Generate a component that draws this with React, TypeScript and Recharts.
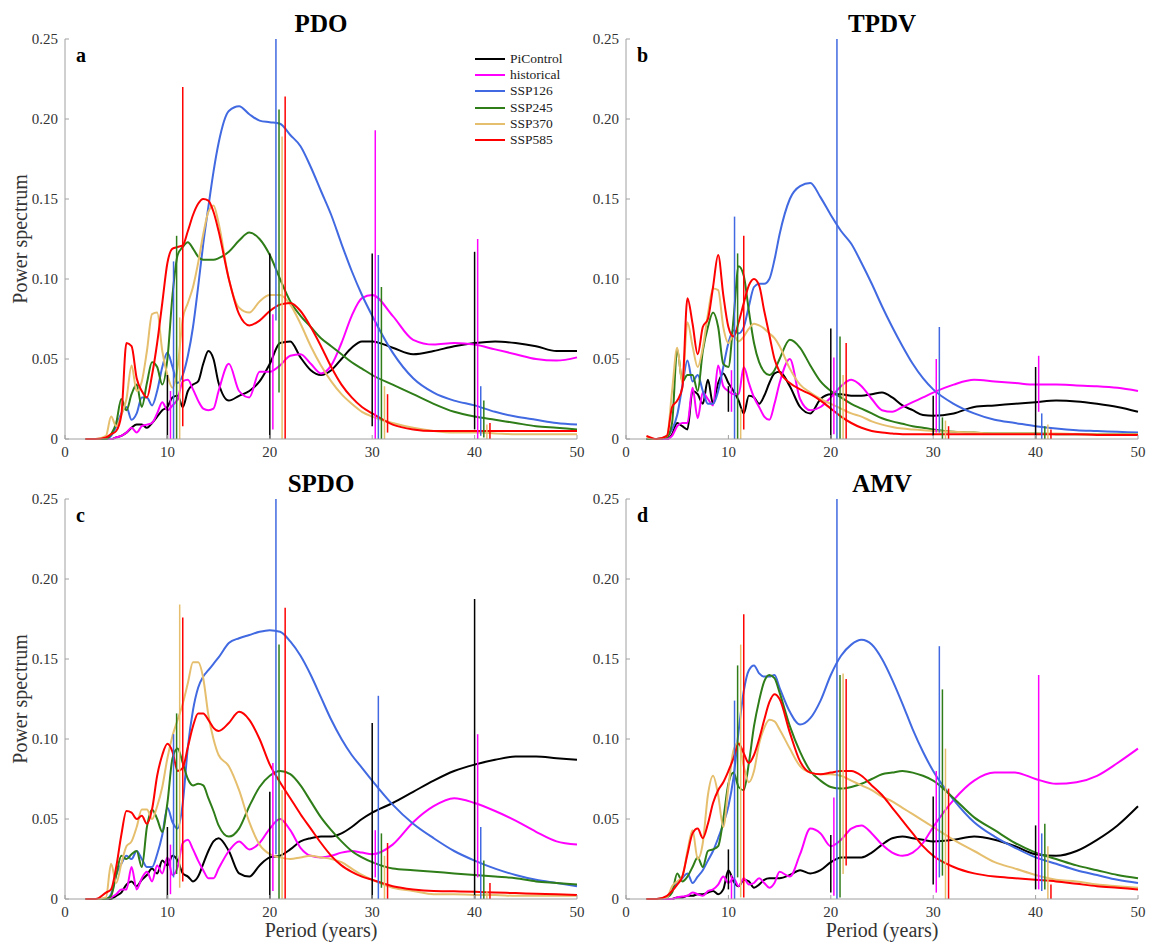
import React from 'react';
import { Line, LineChart, ReferenceLine, XAxis, YAxis } from 'recharts';

// shared period grid (years)
const periods = [
  2, 3, 4, 4.5, 5, 5.5, 6, 6.5, 7, 7.5,
  8, 8.5, 9, 9.5, 10, 10.5, 11, 11.5, 12, 12.5,
  13, 13.5, 14, 14.5, 15, 16, 17, 18, 19, 20,
  21, 22, 23, 24, 25, 26, 27, 28, 29, 30,
  32, 34, 36, 38, 40, 42, 44, 46, 48, 50,
];

const seriesNames = ['PiControl', 'historical', 'SSP126', 'SSP245', 'SSP370', 'SSP585'];
const seriesColors = ['#000000', '#ff00ff', '#4169e1', '#2e7d18', '#e6bf6e', '#ff0000'];

const xTicks = [0, 10, 20, 30, 40, 50];
const yTicks = [0, 0.05, 0.1, 0.15, 0.2, 0.25];

// significant periods, each scenario shifted a bit to the right
const barPeriods = [10, 20, 30, 40];
const barShift = 0.3;

// ---- PDO ----
const pdoPiControl = [
  0, 0, 0, 0, 0.001, 0.002, 0.004, 0.007, 0.009, 0.009,
  0.007, 0.01, 0.014, 0.018, 0.02, 0.026, 0.027, 0.02, 0.03, 0.034,
  0.036, 0.047, 0.055, 0.05, 0.035, 0.024, 0.027, 0.03, 0.036, 0.047,
  0.06, 0.061, 0.051, 0.043, 0.04, 0.043, 0.05, 0.057, 0.061, 0.061,
  0.057, 0.053, 0.055, 0.058, 0.06, 0.061, 0.06, 0.058, 0.055, 0.055,
];
const pdoHistorical = [
  0, 0, 0, 0, 0.001, 0.002, 0.004, 0.007, 0.004, 0.008,
  0.009, 0.01, 0.016, 0.023, 0.018, 0.021, 0.025, 0.036, 0.037, 0.031,
  0.024, 0.019, 0.018, 0.019, 0.03, 0.047, 0.03, 0.026, 0.042, 0.042,
  0.046, 0.052, 0.053, 0.047, 0.041, 0.046, 0.06, 0.077, 0.088, 0.09,
  0.077, 0.062, 0.059, 0.06, 0.059, 0.056, 0.053, 0.05, 0.049, 0.051,
];
const pdoSSP126 = [
  0, 0, 0, 0.002, 0.008, 0.016, 0.02, 0.012, 0.016, 0.026,
  0.026, 0.021, 0.03, 0.045, 0.054, 0.045, 0.035, 0.04, 0.052, 0.07,
  0.095, 0.122, 0.145, 0.167, 0.185, 0.205, 0.208, 0.203, 0.199, 0.198,
  0.197, 0.19, 0.183, 0.17, 0.155, 0.14, 0.122, 0.105, 0.09, 0.077,
  0.054, 0.038, 0.029, 0.024, 0.021, 0.017, 0.014, 0.012, 0.01, 0.009,
];
const pdoSSP245 = [
  0, 0, 0, 0.003, 0.01, 0.025, 0.018, 0.028, 0.034, 0.02,
  0.035, 0.048, 0.045, 0.034, 0.05, 0.09, 0.115, 0.12, 0.123, 0.119,
  0.114, 0.112, 0.112, 0.112, 0.113, 0.117, 0.124, 0.129, 0.125, 0.115,
  0.1, 0.086, 0.077, 0.07, 0.063, 0.058, 0.053, 0.048, 0.044, 0.04,
  0.034, 0.028, 0.022, 0.017, 0.014, 0.012, 0.01, 0.008, 0.007, 0.006,
];
const pdoSSP370 = [
  0, 0, 0.002, 0.014, 0.008, 0.015, 0.025, 0.046, 0.03, 0.036,
  0.055, 0.078, 0.079, 0.055, 0.04, 0.032, 0.045, 0.075, 0.085, 0.095,
  0.11, 0.128, 0.142, 0.146, 0.135, 0.1, 0.082, 0.079, 0.086, 0.09,
  0.09, 0.084, 0.072, 0.058, 0.046, 0.036, 0.028, 0.022, 0.017, 0.014,
  0.01, 0.007, 0.005, 0.004, 0.004, 0.0035, 0.003, 0.003, 0.003, 0.003,
];
const pdoSSP585 = [
  0, 0, 0.001, 0.003, 0.005, 0.015, 0.06, 0.058, 0.038, 0.03,
  0.026, 0.04, 0.06, 0.085, 0.11, 0.119, 0.12, 0.121, 0.13, 0.14,
  0.147, 0.15, 0.149, 0.142, 0.13, 0.1, 0.078, 0.071, 0.074, 0.08,
  0.084, 0.085, 0.08, 0.07, 0.058, 0.045, 0.034, 0.026, 0.02, 0.016,
  0.009, 0.006, 0.005, 0.005, 0.005, 0.005, 0.005, 0.005, 0.005, 0.005,
];
const pdoBarLow = [
  [0, 0, 0.008, 0.006],
  [0, 0.006, 0, 0],
  [0, 0.074, 0, 0.002],
  [0, 0.029, 0, 0.001],
  [0, 0, 0, 0],
  [0.008, 0, 0.004, 0],
];
const pdoBarHigh = [
  [0.04, 0.116, 0.116, 0.117],
  [0.03, 0.078, 0.193, 0.125],
  [0.111, 0.25, 0.115, 0.033],
  [0.127, 0.206, 0.095, 0.024],
  [0.076, 0.189, 0.033, 0.009],
  [0.22, 0.214, 0.028, 0.01],
];

// ---- TPDV ----
const tpdvPiControl = [
  0, 0, 0, 0.003, 0.01, 0.008, 0.006, 0.03, 0.028, 0.022,
  0.037, 0.022, 0.035, 0.041, 0.035, 0.03, 0.024, 0.016, 0.027, 0.026,
  0.022, 0.027, 0.035, 0.041, 0.042, 0.033, 0.02, 0.016, 0.025, 0.028,
  0.028, 0.027, 0.027, 0.028, 0.029, 0.026, 0.021, 0.018, 0.015, 0.0145,
  0.016, 0.02, 0.021, 0.022, 0.023, 0.024, 0.0235, 0.022, 0.02, 0.017,
];
const tpdvHistorical = [
  0, 0, 0, 0.002, 0.008, 0.01, 0.01, 0.032, 0.013, 0.029,
  0.025, 0.021, 0.046, 0.033, 0.03, 0.028, 0.028, 0.045, 0.035, 0.026,
  0.02, 0.014, 0.012, 0.022, 0.035, 0.05, 0.025, 0.018, 0.02, 0.026,
  0.033, 0.037, 0.033, 0.025, 0.018, 0.017, 0.02, 0.023, 0.026, 0.029,
  0.034, 0.037, 0.036, 0.035, 0.034, 0.034, 0.0335, 0.033, 0.032, 0.03,
];
const tpdvSSP126 = [
  0, 0, 0.002, 0.006, 0.015, 0.033, 0.049, 0.036, 0.04, 0.03,
  0.022, 0.022, 0.03, 0.045, 0.06, 0.068, 0.066, 0.07, 0.083, 0.095,
  0.097, 0.097, 0.1, 0.112, 0.128, 0.15, 0.158, 0.16, 0.151, 0.14,
  0.13, 0.122, 0.11, 0.097, 0.083, 0.07, 0.058, 0.047, 0.038, 0.031,
  0.022, 0.016, 0.012, 0.01, 0.008, 0.0065, 0.0055, 0.005, 0.0045, 0.004,
];
const tpdvSSP245 = [
  0, 0, 0.001, 0.01, 0.056, 0.036, 0.04, 0.04, 0.03, 0.055,
  0.07, 0.079, 0.07, 0.047, 0.045, 0.075, 0.108, 0.102, 0.08, 0.06,
  0.048, 0.042, 0.04, 0.043, 0.05, 0.062, 0.057, 0.046, 0.036, 0.03,
  0.026, 0.022, 0.019, 0.016, 0.013, 0.011, 0.0095, 0.008, 0.007, 0.006,
  0.0045, 0.004, 0.0035, 0.0035, 0.0035, 0.003, 0.003, 0.003, 0.003, 0.003,
];
const tpdvSSP370 = [
  0.001, 0, 0.002, 0.03, 0.057, 0.035, 0.073, 0.058, 0.045, 0.057,
  0.078, 0.094, 0.093, 0.07, 0.06, 0.065, 0.061, 0.064, 0.069, 0.072,
  0.071, 0.069, 0.066, 0.063, 0.058, 0.044, 0.034, 0.029, 0.025, 0.022,
  0.019, 0.016, 0.014, 0.011, 0.009, 0.0075, 0.0065, 0.006, 0.0055, 0.005,
  0.0045, 0.004, 0.0035, 0.0035, 0.0035, 0.0035, 0.003, 0.003, 0.003, 0.003,
];
const tpdvSSP585 = [
  0.002, 0, 0.002, 0.02, 0.024, 0.032, 0.088, 0.072, 0.053, 0.07,
  0.075, 0.095, 0.115, 0.09, 0.07, 0.064, 0.073, 0.085, 0.096, 0.1,
  0.096, 0.08, 0.065, 0.05, 0.042, 0.035, 0.031, 0.028, 0.024, 0.019,
  0.014, 0.01, 0.007, 0.005, 0.004, 0.0035, 0.003, 0.003, 0.003, 0.003,
  0.003, 0.003, 0.003, 0.003, 0.003, 0.003, 0.003, 0.0025, 0.0025, 0.0025,
];
const tpdvBarLow = [
  [0.017, 0, 0.002, 0],
  [0.017, 0.003, 0.004, 0.017],
  [0, 0, 0.004, 0],
  [0, 0, 0, 0],
  [0, 0, 0, 0],
  [0.006, 0, 0, 0],
];
const tpdvBarHigh = [
  [0.033, 0.069, 0.027, 0.045],
  [0.043, 0.051, 0.05, 0.052],
  [0.139, 0.25, 0.07, 0.016],
  [0.116, 0.064, 0.0135, 0.008],
  [0.019, 0.04, 0.0115, 0.009],
  [0.127, 0.06, 0.008, 0.006],
];

// ---- SPDO ----
const spdoPiControl = [
  0, 0, 0, 0, 0.002, 0.004, 0.009, 0.011, 0.008, 0.012,
  0.015, 0.019, 0.016, 0.024, 0.021, 0.027, 0.024, 0.016, 0.014, 0.011,
  0.014, 0.022, 0.03, 0.036, 0.038, 0.03, 0.016, 0.014, 0.021, 0.026,
  0.027, 0.031, 0.036, 0.038, 0.039, 0.039, 0.041, 0.045, 0.05, 0.054,
  0.06, 0.067, 0.074, 0.08, 0.084, 0.087, 0.089, 0.089, 0.088, 0.087,
];
const spdoHistorical = [
  0, 0, 0, 0.001, 0.003, 0.006, 0.006, 0.02, 0.006, 0.013,
  0.017, 0.011, 0.021, 0.016, 0.026, 0.015, 0.02, 0.035, 0.037, 0.031,
  0.024, 0.018, 0.013, 0.013, 0.019, 0.03, 0.036, 0.031, 0.035, 0.044,
  0.05, 0.043, 0.032, 0.027, 0.026, 0.027, 0.029, 0.03, 0.029, 0.028,
  0.034, 0.048, 0.058, 0.063, 0.06, 0.055, 0.049, 0.042, 0.036, 0.034,
];
const spdoSSP126 = [
  0, 0, 0, 0.003, 0.015, 0.022, 0.027, 0.025, 0.03, 0.025,
  0.02, 0.02, 0.028, 0.04, 0.057, 0.048, 0.044, 0.06, 0.095, 0.118,
  0.132, 0.139, 0.143, 0.147, 0.151, 0.16, 0.163, 0.165, 0.167, 0.168,
  0.167, 0.161, 0.152, 0.14, 0.126, 0.112, 0.1, 0.09, 0.082, 0.074,
  0.059, 0.047, 0.038, 0.03, 0.024, 0.019, 0.015, 0.012, 0.01, 0.008,
];
const spdoSSP245 = [
  0, 0, 0, 0.002, 0.015, 0.027, 0.025, 0.028, 0.03, 0.02,
  0.045, 0.056, 0.05, 0.042, 0.06, 0.088, 0.094, 0.085, 0.075, 0.071,
  0.072, 0.071, 0.063, 0.055, 0.046, 0.039, 0.044, 0.058, 0.07, 0.077,
  0.08, 0.078, 0.071, 0.061, 0.051, 0.043, 0.036, 0.03, 0.026, 0.023,
  0.019, 0.018, 0.017, 0.016, 0.015, 0.014, 0.013, 0.011, 0.01, 0.009,
];
const spdoSSP370 = [
  0, 0, 0.001, 0.022, 0.01, 0.022, 0.033, 0.036, 0.045, 0.056,
  0.056, 0.05, 0.058, 0.07, 0.088, 0.102, 0.112, 0.122, 0.135, 0.148,
  0.148, 0.138, 0.115, 0.1, 0.09, 0.083, 0.068, 0.048, 0.034, 0.028,
  0.026, 0.025, 0.026, 0.027, 0.026, 0.025, 0.023, 0.019, 0.015, 0.012,
  0.007, 0.005, 0.003, 0.003, 0.0025, 0.0025, 0.002, 0.002, 0.002, 0.002,
];
const spdoSSP585 = [
  0, 0, 0.004, 0.006, 0.02, 0.04, 0.055, 0.054, 0.05, 0.052,
  0.047, 0.056, 0.077, 0.09, 0.097, 0.092, 0.08, 0.082, 0.095, 0.108,
  0.116, 0.116, 0.112, 0.107, 0.105, 0.11, 0.117, 0.112, 0.1, 0.084,
  0.073, 0.063, 0.053, 0.044, 0.035, 0.027, 0.021, 0.017, 0.014, 0.012,
  0.008, 0.006, 0.005, 0.0048, 0.0045, 0.004, 0.0037, 0.0033, 0.003, 0.0025,
];
const spdoBarLow = [
  [0, 0, 0, 0],
  [0.003, 0.005, 0.0135, 0.0135],
  [0.0135, 0.028, 0, 0],
  [0.0156, 0, 0.007, 0],
  [0.007, 0, 0, 0],
  [0.011, 0, 0, 0],
];
const spdoBarHigh = [
  [0.045, 0.067, 0.11, 0.1875],
  [0.034, 0.085, 0.043, 0.103],
  [0.103, 0.25, 0.127, 0.045],
  [0.116, 0.159, 0.041, 0.024],
  [0.184, 0.068, 0.027, 0.005],
  [0.176, 0.182, 0.035, 0.01],
];

// ---- AMV ----
const amvPiControl = [
  0, 0, 0, 0, 0.001, 0.001, 0.002, 0.002, 0.003, 0.003,
  0.004, 0.005, 0.003, 0.006, 0.018, 0.011, 0.008, 0.012, 0.011, 0.007,
  0.009, 0.012, 0.013, 0.013, 0.013, 0.015, 0.018, 0.016, 0.018, 0.023,
  0.026, 0.026, 0.026, 0.029, 0.034, 0.038, 0.039, 0.038, 0.037, 0.036,
  0.037, 0.039, 0.037, 0.033, 0.028, 0.027, 0.03, 0.037, 0.046, 0.058,
];
const amvHistorical = [
  0, 0, 0, 0, 0.001, 0.0015, 0.002, 0.004, 0.003, 0.002,
  0.005, 0.006, 0.009, 0.014, 0.01, 0.013, 0.008, 0.013, 0.009, 0.01,
  0.013, 0.01, 0.007, 0.01, 0.017, 0.014, 0.028, 0.044, 0.041, 0.033,
  0.037, 0.044, 0.046, 0.041, 0.034, 0.029, 0.027, 0.029, 0.035, 0.045,
  0.062, 0.074, 0.079, 0.079, 0.075, 0.072, 0.073, 0.077, 0.085, 0.094,
];
const amvSSP126 = [
  0, 0, 0.001, 0.006, 0.01, 0.013, 0.016, 0.01, 0.014, 0.018,
  0.024, 0.03, 0.038, 0.047, 0.058, 0.076, 0.105, 0.13, 0.143, 0.146,
  0.141, 0.139, 0.139, 0.14, 0.132, 0.117, 0.109, 0.113, 0.124, 0.14,
  0.152, 0.159, 0.162, 0.159, 0.15, 0.137, 0.122, 0.106, 0.092, 0.08,
  0.062, 0.048, 0.039, 0.032, 0.026, 0.022, 0.018, 0.015, 0.012, 0.01,
];
const amvSSP245 = [
  0, 0, 0.001, 0.004, 0.016, 0.011, 0.014, 0.02, 0.026, 0.02,
  0.03, 0.031, 0.033, 0.05, 0.072, 0.079, 0.07, 0.068, 0.085, 0.108,
  0.124, 0.136, 0.14, 0.138, 0.129, 0.108, 0.092, 0.08, 0.074, 0.07,
  0.069, 0.07, 0.072, 0.075, 0.078, 0.079, 0.08, 0.079, 0.077, 0.074,
  0.063, 0.051, 0.043, 0.035, 0.029, 0.025, 0.021, 0.018, 0.015, 0.013,
];
const amvSSP370 = [
  0, 0, 0.001, 0.008, 0.011, 0.014, 0.03, 0.043, 0.025, 0.035,
  0.065, 0.077, 0.065, 0.045, 0.07, 0.093, 0.098, 0.083, 0.073, 0.08,
  0.097, 0.107, 0.112, 0.111, 0.106, 0.094, 0.083, 0.079, 0.078, 0.078,
  0.077, 0.074, 0.071, 0.068, 0.064, 0.061, 0.057, 0.053, 0.049, 0.045,
  0.037, 0.03, 0.023, 0.019, 0.015, 0.012, 0.011, 0.009, 0.008, 0.007,
];
const amvSSP585 = [
  0, 0, 0.002, 0.005, 0.009, 0.014, 0.028, 0.041, 0.044, 0.038,
  0.047, 0.06, 0.068, 0.073, 0.08, 0.088, 0.097, 0.091, 0.085, 0.09,
  0.1, 0.112, 0.123, 0.128, 0.125, 0.104, 0.086, 0.079, 0.078, 0.079,
  0.08, 0.08, 0.077, 0.071, 0.065, 0.057, 0.049, 0.041, 0.033, 0.027,
  0.02, 0.016, 0.014, 0.013, 0.012, 0.011, 0.0095, 0.008, 0.007, 0.006,
];
const amvBarLow = [
  [0.006, 0.004, 0.009, 0.006],
  [0, 0.002, 0.004, 0.006],
  [0, 0, 0.0135, 0.005],
  [0.0135, 0.001, 0.0146, 0.006],
  [0.001, 0.0156, 0, 0],
  [0.001, 0.021, 0, 0],
];
const amvBarHigh = [
  [0.031, 0.04, 0.064, 0.046],
  [0.015, 0.0635, 0.08, 0.14],
  [0.124, 0.25, 0.158, 0.041],
  [0.146, 0.14, 0.131, 0.047],
  [0.159, 0.141, 0.094, 0.033],
  [0.178, 0.1375, 0.069, 0.009],
];

const FONT = '"Liberation Serif", "Times New Roman", serif';
const AXIS_GREY = '#a0a0a0';
const TEXT_COLOR = '#333333';

const formatY = (v: number) => (v === 0 ? '0' : v.toFixed(2));

const renderYLabel = (props: any) => {
  const vb = props.viewBox;
  const cx = vb.x + 20;
  const cy = vb.y + vb.height / 2;
  return (
    <text
      x={cx}
      y={cy}
      transform={`rotate(-90 ${cx} ${cy})`}
      textAnchor="middle"
      dominantBaseline="central"
      fontFamily={FONT}
      fontSize={20}
      fill={TEXT_COLOR}
    >
      Power spectrum
    </text>
  );
};

const renderXLabel = (props: any) => {
  const vb = props.viewBox;
  return (
    <text
      x={vb.x + vb.width / 2}
      y={vb.y + vb.height - 9}
      textAnchor="middle"
      fontFamily={FONT}
      fontSize={20}
      fill={TEXT_COLOR}
    >
      Period (years)
    </text>
  );
};

const LegendBox = () => (
  <div style={{ position: 'absolute', left: 475, top: 51 }}>
    {seriesNames.map((name, k) => (
      <div key={name} style={{ display: 'flex', alignItems: 'center', height: 16.2 }}>
        <span
          style={{
            display: 'inline-block',
            width: 30,
            height: 2,
            background: seriesColors[k],
            marginRight: 5,
          }}
        />
        <span style={{ fontFamily: FONT, fontSize: 13.5, color: '#222', lineHeight: '16px' }}>
          {name}
        </span>
      </div>
    ))}
  </div>
);

interface PanelProps {
  title: string;
  letter: string;
  curves: number[][];
  barLow: number[][];
  barHigh: number[][];
  left: number;
  top: number;
  yLabel?: boolean;
  xLabel?: boolean;
  legend?: boolean;
}

const Panel: React.FC<PanelProps> = ({
  title,
  letter,
  curves,
  barLow,
  barHigh,
  left,
  top,
  yLabel,
  xLabel,
  legend,
}) => {
  const height = xLabel ? 486 : 470;
  const rows = periods.map((p, i) => {
    const row: Record<string, number> = { period: p };
    seriesNames.forEach((name, k) => {
      row[name] = curves[k][i];
    });
    return row;
  });

  return (
    <div style={{ position: 'absolute', left, top, width: 590, height }}>
      <LineChart
        width={590}
        height={height}
        data={rows}
        margin={{ top: 39, right: 13, bottom: 0, left: 0 }}
      >
        <XAxis
          type="number"
          dataKey="period"
          domain={[0, 50]}
          ticks={xTicks}
          height={xLabel ? 47 : 31}
          axisLine={{ stroke: AXIS_GREY }}
          tickLine={{ stroke: AXIS_GREY }}
          tickSize={-4}
          tickMargin={11}
          tick={{ fill: TEXT_COLOR, fontSize: 15, fontFamily: FONT }}
          label={xLabel ? renderXLabel : undefined}
        />
        <YAxis
          type="number"
          domain={[0, 0.25]}
          ticks={yTicks}
          width={65}
          tickFormatter={formatY}
          axisLine={{ stroke: AXIS_GREY }}
          tickLine={{ stroke: AXIS_GREY }}
          tickSize={-4}
          tickMargin={11}
          tick={{ fill: TEXT_COLOR, fontSize: 15, fontFamily: FONT }}
          label={yLabel ? renderYLabel : undefined}
        />
        {seriesNames.map((name, k) => (
          <Line
            key={name}
            type="monotone"
            dataKey={name}
            stroke={seriesColors[k]}
            strokeWidth={2}
            dot={false}
            activeDot={false}
            isAnimationActive={false}
          />
        ))}
        {barLow.map((lows, k) =>
          barPeriods.map((bp, j) => (
            <ReferenceLine
              key={`bar-${k}-${j}`}
              segment={[
                { x: bp + barShift * k, y: lows[j] },
                { x: bp + barShift * k, y: barHigh[k][j] },
              ]}
              stroke={seriesColors[k]}
              strokeWidth={1.5}
              ifOverflow="visible"
            />
          )),
        )}
      </LineChart>
      {legend && <LegendBox />}
      <div
        style={{
          position: 'absolute',
          left: 65,
          top: 11,
          width: 512,
          textAlign: 'center',
          fontFamily: FONT,
          fontWeight: 'bold',
          fontSize: 25,
          lineHeight: '25px',
          color: '#000',
        }}
      >
        {title}
      </div>
      <div
        style={{
          position: 'absolute',
          left: 76,
          top: 45,
          fontFamily: FONT,
          fontWeight: 'bold',
          fontSize: 20,
          lineHeight: '20px',
          color: '#000',
        }}
      >
        {letter}
      </div>
    </div>
  );
};

export default function App() {
  return (
    <div
      style={{
        position: 'absolute',
        left: 0,
        top: 0,
        width: 1149,
        height: 946,
        background: '#ffffff',
      }}
    >
      <Panel
        title="PDO"
        letter="a"
        curves={[pdoPiControl, pdoHistorical, pdoSSP126, pdoSSP245, pdoSSP370, pdoSSP585]}
        barLow={pdoBarLow}
        barHigh={pdoBarHigh}
        left={0}
        top={0}
        yLabel
        legend
      />
      <Panel
        title="TPDV"
        letter="b"
        curves={[tpdvPiControl, tpdvHistorical, tpdvSSP126, tpdvSSP245, tpdvSSP370, tpdvSSP585]}
        barLow={tpdvBarLow}
        barHigh={tpdvBarHigh}
        left={561}
        top={0}
      />
      <Panel
        title="SPDO"
        letter="c"
        curves={[spdoPiControl, spdoHistorical, spdoSSP126, spdoSSP245, spdoSSP370, spdoSSP585]}
        barLow={spdoBarLow}
        barHigh={spdoBarHigh}
        left={0}
        top={460}
        yLabel
        xLabel
      />
      <Panel
        title="AMV"
        letter="d"
        curves={[amvPiControl, amvHistorical, amvSSP126, amvSSP245, amvSSP370, amvSSP585]}
        barLow={amvBarLow}
        barHigh={amvBarHigh}
        left={561}
        top={460}
        xLabel
      />
    </div>
  );
}
